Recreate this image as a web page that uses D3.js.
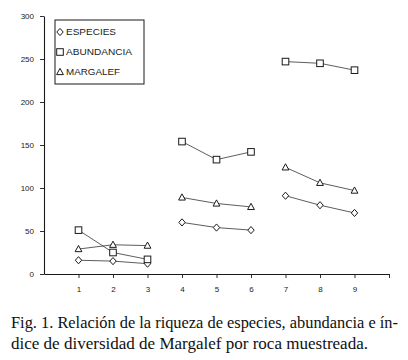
<!DOCTYPE html>
<html><head><meta charset="utf-8">
<script src="https://cdn.jsdelivr.net/npm/d3@7"></script>
<style>body{margin:0;background:#fff}svg{display:block}</style>
</head><body>
<script>
const samples = [1,2,3,4,5,6,7,8,9];
const groups = [[1,2,3],[4,5,6],[7,8,9]];
const especies   = [16,15,12, 60,54,51, 91,80,71];
const abundancia = [51,25,17, 154,133,142, 247,245,237];
const margalef   = [29,34,33, 89,82,78, 124,106,97];
const yTicks = [0,50,100,150,200,250,300];
const xTicks = [1,2,3,4,5,6,7,8,9,10];
const xTickLabels = ["1","2","3","4","5","6","7","8","9",""];
const legendLabels = ["ESPECIES","ABUNDANCIA","MARGALEF"];
const captionLines = ["Fig. 1. Relación de la riqueza de especies, abundancia e ín-",
                      "dice de diversidad de Margalef por roca muestreada."];

const W=408,H=360;
const svg=d3.select("body").append("svg").attr("width",W).attr("height",H);
const x=d3.scaleLinear().domain([0,10]).range([44,389]);
const y=d3.scaleLinear().domain([0,300]).range([274,16]);
const ink="#1a1a1a";
const sans="'Liberation Sans', Arial, sans-serif";

// axes
const xAxis=svg.append("g").attr("transform","translate(0,274)")
  .call(d3.axisBottom(x).tickValues(xTicks).tickFormat((d,i)=>xTickLabels[i]).tickSize(4).tickPadding(8).tickSizeOuter(0));
const yAxis=svg.append("g").attr("transform","translate(44,0)")
  .call(d3.axisLeft(y).tickValues(yTicks).tickSize(4).tickPadding(6).tickSizeOuter(0));
[xAxis,yAxis].forEach(a=>{
  a.select(".domain").attr("stroke",ink).attr("stroke-width",1.1);
  a.selectAll(".tick line").attr("stroke",ink).attr("stroke-width",0.9);
  a.selectAll("text").attr("fill",ink).style("font-family",sans).style("font-size","8px");
});

const series=[
  {name:legendLabels[0], vals:especies, sym:"diamond"},
  {name:legendLabels[1], vals:abundancia, sym:"square"},
  {name:legendLabels[2], vals:margalef, sym:"triangle"}
];
function drawSym(g,sym,cx,cy){
  if(sym==="square"){
    g.append("rect").attr("x",cx-3.3).attr("y",cy-3.3).attr("width",6.6).attr("height",6.6)
     .attr("fill","#fff").attr("stroke",ink).attr("stroke-width",1);
  } else if(sym==="diamond"){
    g.append("path").attr("d",`M${cx},${cy-3.6}L${cx+3.2},${cy}L${cx},${cy+3.6}L${cx-3.2},${cy}Z`)
     .attr("fill","#fff").attr("stroke",ink).attr("stroke-width",1);
  } else {
    g.append("path").attr("d",`M${cx},${cy-3.6}L${cx+3.4},${cy+2.6}L${cx-3.4},${cy+2.6}Z`)
     .attr("fill","#fff").attr("stroke",ink).attr("stroke-width",1);
  }
}
const line=d3.line().x(d=>x(d[0])).y(d=>y(d[1]));
series.forEach(s=>{
  groups.forEach(gr=>{
    const pts=gr.map(k=>[k,s.vals[samples.indexOf(k)]]);
    svg.append("path").attr("d",line(pts)).attr("fill","none").attr("stroke","#333").attr("stroke-width",0.8);
  });
});
series.forEach(s=>{
  const g=svg.append("g");
  samples.forEach((k,i)=>drawSym(g,s.sym,x(k),y(s.vals[i])));
});

// legend
const lg=svg.append("g");
lg.append("rect").attr("x",55).attr("y",20).attr("width",89).attr("height",64)
  .attr("fill","#fff").attr("stroke",ink).attr("stroke-width",1);
const legW=[50,66,54];
series.forEach((s,i)=>{
  const cy=32+i*20;
  drawSym(lg,s.sym,60,cy);
  lg.append("text").attr("x",66).attr("y",cy+3).text(s.name)
    .attr("fill",ink).style("font-family",sans).style("font-size","8.5px")
    .attr("textLength",legW[i]).attr("lengthAdjust","spacingAndGlyphs");
});

// caption
const capW=[387,357];
captionLines.forEach((t,i)=>{
  const by=328+i*21;
  svg.append("text").attr("x",11).attr("y",0).text(t)
    .attr("transform",`translate(0,${by}) scale(1,1.12)`)
    .attr("fill","#111").style("font-family","'Liberation Serif','Times New Roman',serif").style("font-size","15.5px")
    .attr("textLength",capW[i]).attr("lengthAdjust","spacingAndGlyphs");
});
</script>
</body></html>
